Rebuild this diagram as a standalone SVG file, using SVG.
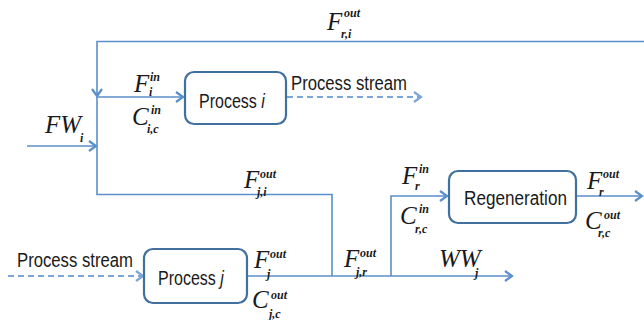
<svg xmlns="http://www.w3.org/2000/svg" width="644" height="320" viewBox="0 0 644 320">
<defs>
<marker id="arr" markerWidth="12" markerHeight="12" refX="9" refY="6" orient="auto" markerUnits="userSpaceOnUse">
<path d="M2,1 L9,6 L2,11" fill="none" stroke="#5B8FCB" stroke-width="2.2"/>
</marker>
<marker id="arrd" markerWidth="12" markerHeight="12" refX="9" refY="6" orient="auto" markerUnits="userSpaceOnUse">
<path d="M2,1 L9,6 L2,11" fill="none" stroke="#7CA6D8" stroke-width="2.2"/>
</marker>
<style>
.ln{fill:none;stroke:#5B8FCB;stroke-width:1.6}
.dash{fill:none;stroke:#7CA6D8;stroke-width:1.8;stroke-dasharray:6,4}
.box{fill:#fff;stroke:#41709F;stroke-width:2.2}
.lbl{font-family:"Liberation Sans","Open Sans",sans-serif;font-size:20px;fill:#1a1a1a}
.it{font-style:italic}
.m{font-family:"Liberation Serif",serif;font-style:italic;font-size:25px;fill:#1a1a1a}
.sp{font-family:"Liberation Serif",serif;font-style:italic;font-weight:bold;font-size:12px;fill:#1a1a1a}
</style>
</defs>
<g id="connectors">
<path class="ln" d="M644,41.5 H97 V96" marker-end="url(#arr)"/>
<path class="ln" d="M97,97 H183" marker-end="url(#arr)"/>
<path class="ln" d="M27,146 H96" marker-end="url(#arr)"/>
<path class="ln" d="M97,97 V194.5 H332 V276"/>
<path class="ln" d="M247,276 H512" marker-end="url(#arr)"/>
<path class="ln" d="M391,276 V196 H447" marker-end="url(#arr)"/>
<path class="ln" d="M576,196 H642" marker-end="url(#arr)"/>
<path class="dash" d="M287,97 H421" marker-end="url(#arrd)"/>
<path class="dash" d="M8,276 H143" marker-end="url(#arrd)"/>
</g>
<g id="process-i">
<rect class="box" x="185" y="72" width="101" height="52" rx="9"/>
<text class="lbl" transform="translate(199,108) scale(0.8,1)">Process <tspan class="it">i</tspan></text>
</g>
<g id="process-j">
<rect class="box" x="144" y="249" width="103" height="54" rx="9"/>
<text class="lbl" transform="translate(158,285) scale(0.8,1)">Process <tspan class="it">j</tspan></text>
</g>
<g id="regeneration">
<rect class="box" x="449" y="171" width="127" height="52" rx="9"/>
<text class="lbl" x="464" y="205" textLength="103" lengthAdjust="spacingAndGlyphs">Regeneration</text>
</g>
<g id="labels">
<text class="lbl" x="291" y="90" textLength="116" lengthAdjust="spacingAndGlyphs">Process stream</text>
<text class="lbl" x="17" y="267" textLength="116" lengthAdjust="spacingAndGlyphs">Process stream</text>

<text class="m" x="327" y="30">F</text><text class="sp" x="344" y="17">out</text><text class="sp" x="341" y="38">r,i</text>
<text class="m" x="134" y="92">F</text><text class="sp" x="150" y="81">in</text><text class="sp" x="149" y="96">i</text>
<text class="m" x="132" y="125">C</text><text class="sp" x="151" y="114">in</text><text class="sp" x="147" y="133">i,c</text>
<text class="m" x="45" y="133">FW</text><text class="sp" x="80" y="142">i</text>
<text class="m" x="244" y="188">F</text><text class="sp" x="260" y="178">out</text><text class="sp" x="257" y="196">j,i</text>
<text class="m" x="254" y="268">F</text><text class="sp" x="270" y="258">out</text><text class="sp" x="267" y="278">j</text>
<text class="m" x="252" y="308">C</text><text class="sp" x="271" y="299">out</text><text class="sp" x="269" y="318">j,c</text>
<text class="m" x="344" y="267">F</text><text class="sp" x="360" y="257">out</text><text class="sp" x="356" y="276">j,r</text>
<text class="m" x="439" y="267">WW</text><text class="sp" x="475" y="277">j</text>
<text class="m" x="402" y="184">F</text><text class="sp" x="419" y="173">in</text><text class="sp" x="415" y="190">r</text>
<text class="m" x="400" y="224">C</text><text class="sp" x="419" y="213">in</text><text class="sp" x="415" y="233">r,c</text>
<text class="m" x="587" y="189">F</text><text class="sp" x="603" y="178">out</text><text class="sp" x="599" y="196">r</text>
<text class="m" x="585" y="229">C</text><text class="sp" x="604" y="219">out</text><text class="sp" x="598" y="237">r,c</text>
</g>
</svg>
